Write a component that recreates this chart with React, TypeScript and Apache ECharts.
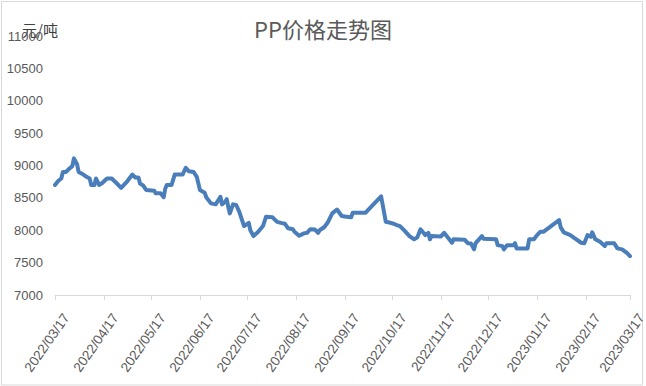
import React, { useEffect, useRef } from "react";
import * as echarts from "echarts";

const titleText = "PP价格走势图";
const unitText = "元/吨";

const dates: string[] = [
  "2022-03-17","2022-03-19","2022-03-21","2022-03-22","2022-03-24","2022-03-26","2022-03-28","2022-03-29","2022-03-31","2022-04-01",
  "2022-04-04","2022-04-06","2022-04-08","2022-04-09","2022-04-11","2022-04-12","2022-04-14","2022-04-16","2022-04-19","2022-04-22",
  "2022-04-25","2022-04-28","2022-05-02","2022-05-05","2022-05-07","2022-05-09","2022-05-10","2022-05-12","2022-05-14","2022-05-19",
  "2022-05-20","2022-05-23","2022-05-25","2022-05-26","2022-05-27","2022-05-30","2022-06-01","2022-06-06","2022-06-08","2022-06-10",
  "2022-06-13","2022-06-15","2022-06-17","2022-06-20","2022-06-21","2022-06-24","2022-06-27","2022-06-30","2022-07-01","2022-07-03",
  "2022-07-04","2022-07-05","2022-07-06","2022-07-08","2022-07-10","2022-07-12","2022-07-15","2022-07-18","2022-07-19","2022-07-21",
  "2022-07-24","2022-07-27","2022-07-29","2022-08-02","2022-08-05","2022-08-08","2022-08-10","2022-08-12","2022-08-15","2022-08-16",
  "2022-08-19","2022-08-22","2022-08-24","2022-08-26","2022-08-29","2022-08-31","2022-09-01","2022-09-04","2022-09-06","2022-09-09",
  "2022-09-12","2022-09-15","2022-09-18","2022-09-21","2022-09-22","2022-09-30","2022-10-10","2022-10-13","2022-10-16","2022-10-18",
  "2022-10-20","2022-10-22","2022-10-25","2022-10-28","2022-10-31","2022-11-02","2022-11-04","2022-11-07","2022-11-09","2022-11-10",
  "2022-11-11","2022-11-17","2022-11-19","2022-11-21","2022-11-24","2022-11-25","2022-12-02","2022-12-04","2022-12-06","2022-12-08",
  "2022-12-09","2022-12-13","2022-12-14","2022-12-22","2022-12-23","2022-12-26","2022-12-27","2022-12-29","2023-01-02","2023-01-03",
  "2023-01-04","2023-01-11","2023-01-12","2023-01-15","2023-01-17","2023-01-19","2023-01-21","2023-01-31","2023-02-01","2023-02-03",
  "2023-02-06","2023-02-08","2023-02-10","2023-02-14","2023-02-16","2023-02-18","2023-02-20","2023-02-21","2023-02-23","2023-02-26",
  "2023-03-01","2023-03-02","2023-03-07","2023-03-09","2023-03-12","2023-03-15","2023-03-17"
];

const prices: number[] = [
  8700,8760,8800,8900,8900,8950,8990,9110,9020,8900,
  8860,8825,8800,8700,8700,8800,8700,8730,8800,8800,
  8730,8655,8760,8860,8815,8815,8720,8690,8620,8610,
  8570,8570,8510,8645,8700,8700,8860,8860,8965,8910,
  8900,8825,8620,8580,8510,8415,8400,8517,8400,8440,
  8480,8360,8260,8400,8390,8285,8065,8115,8000,7910,
  7977,8065,8210,8200,8130,8110,8100,8030,8015,7977,
  7915,7952,7960,8015,8010,7960,8000,8050,8115,8260,
  8320,8220,8210,8200,8270,8270,8525,8130,8115,8100,
  8080,8065,7990,7910,7860,7890,8015,7925,7960,7860,
  7910,7905,7960,7900,7807,7860,7855,7800,7797,7705,
  7800,7910,7870,7860,7770,7755,7705,7770,7770,7800,
  7720,7720,7860,7860,7925,7975,7975,8157,8045,7967,
  7937,7910,7875,7807,7800,7925,7900,7967,7860,7822,
  7755,7800,7800,7720,7705,7650,7600
];

const tickDates: string[] = [
  "2022-03-17","2022-04-17","2022-05-17","2022-06-17","2022-07-17","2022-08-17","2022-09-17",
  "2022-10-17","2022-11-17","2022-12-17","2023-01-17","2023-02-17","2023-03-17"
];

const yMin = 7000;
const yMax = 11000;
const yStep = 500;

const toTs = (s: string) => {
  const [y, m, d] = s.split("-").map(Number);
  return new Date(y, m - 1, d).getTime();
};
const pad = (n: number) => (n < 10 ? "0" + n : "" + n);
const fmt = (v: number) => {
  const d = new Date(v);
  return `${d.getFullYear()}/${pad(d.getMonth() + 1)}/${pad(d.getDate())}`;
};

export default function App() {
  const ref = useRef<HTMLDivElement>(null);
  useEffect(() => {
    document.body.style.margin = "0";
    const chart = echarts.init(ref.current!, null, { renderer: "svg" });
    const tickTs = tickDates.map(toTs);
    chart.setOption({
      animation: false,
      backgroundColor: "#ffffff",
      title: {
        text: titleText,
        left: "center",
        top: 12,
        textStyle: { fontFamily: "Noto Sans CJK SC", fontSize: 22, fontWeight: "normal", color: "#595959" },
      },
      graphic: [
        {
          type: "rect",
          shape: { x: 1.5, y: 1.5, width: 641, height: 383.5 },
          style: { fill: "none", stroke: "#d9d9d9", lineWidth: 1 },
          silent: true,
        },
        {
          type: "text",
          left: 22,
          top: 22,
          style: { text: unitText, fontFamily: "Noto Sans CJK SC", fontSize: 15, fill: "#404040" },
        },
      ],
      grid: { left: 55, right: 16, top: 36, bottom: 91, containLabel: false, outerBoundsMode: "none" },
      xAxis: {
        type: "value",
        min: tickTs[0],
        max: tickTs[tickTs.length - 1],
        axisLine: { show: true, lineStyle: { color: "#d9d9d9", width: 1 } },
        axisTick: { show: true, customValues: tickTs, length: 5, lineStyle: { color: "#d9d9d9" } },
        splitLine: { show: false },
        axisLabel: {
          customValues: tickTs,
          rotate: 55,
          margin: 12,
          formatter: (v: number) => fmt(v),
          fontFamily: "Liberation Sans",
          fontSize: 13.5,
          color: "#595959",
          verticalAlign: "top",
          lineHeight: 28,
        },
      },
      yAxis: {
        type: "value",
        min: yMin,
        max: yMax,
        interval: yStep,
        axisLine: { show: false },
        axisTick: { show: false },
        splitLine: { show: false },
        axisLabel: {
          fontFamily: "Liberation Sans",
          fontSize: 13,
          color: "#595959",
          margin: 12,
          formatter: (v: number) => String(v),
        },
      },
      series: [
        {
          type: "line",
          data: dates.map((d, i) => [toTs(d), prices[i]]),
          showSymbol: false,
          symbol: "none",
          smooth: false,
          lineStyle: { color: "#4A7EBB", width: 4, join: "round", cap: "round" },
        },
      ],
    });
    return () => chart.dispose();
  }, []);
  return <div ref={ref} style={{ width: 646, height: 386 }} />;
}
